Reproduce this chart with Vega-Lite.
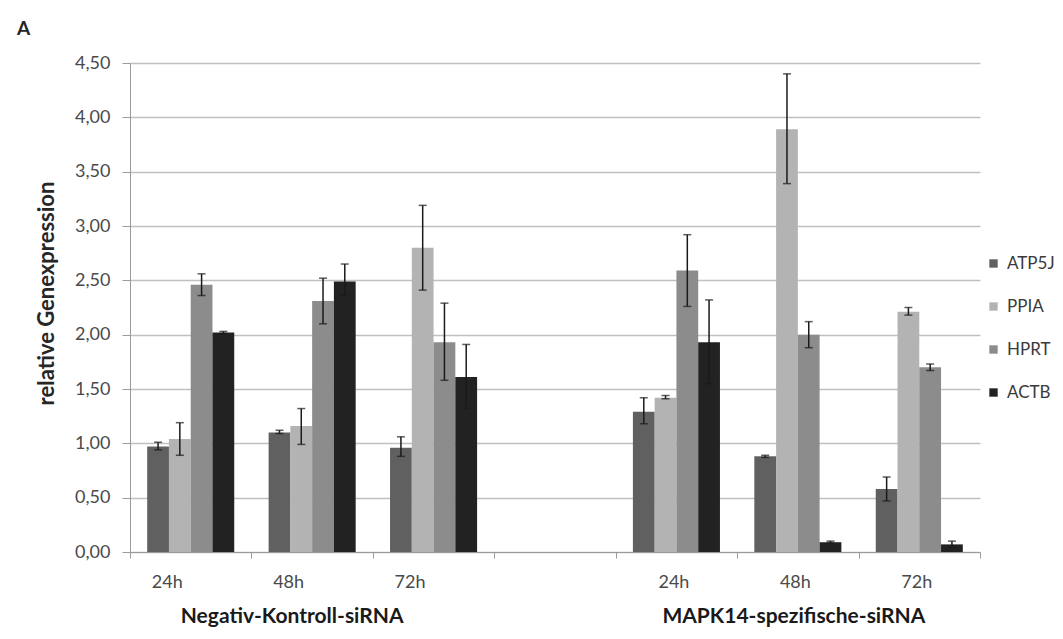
{
  "$schema": "https://vega.github.io/schema/vega-lite/v6.json",
  "width": 850,
  "height": 489,
  "autosize": "none",
  "padding": {"left": 130, "top": 63, "right": 83, "bottom": 87},
  "background": "white",
  "title": {"text": "A", "anchor": "start", "frame": "group", "dx": -113, "offset": 15, "fontSize": 19, "font": "Lato", "fontWeight": "bold", "color": "#262626"},
  "config": {"view": {"stroke": null}, "font": "Lato", "title": {"fontSize": 19}},
  "datasets": {
    "bars": [
      {"slot": "N24", "series": "ATP5J", "value": 0.97, "lo": 0.94, "hi": 1.01},
      {"slot": "N24", "series": "PPIA", "value": 1.04, "lo": 0.89, "hi": 1.19},
      {"slot": "N24", "series": "HPRT", "value": 2.46, "lo": 2.36, "hi": 2.56},
      {"slot": "N24", "series": "ACTB", "value": 2.02, "lo": 2.01, "hi": 2.03},
      {"slot": "N48", "series": "ATP5J", "value": 1.10, "lo": 1.09, "hi": 1.12},
      {"slot": "N48", "series": "PPIA", "value": 1.16, "lo": 0.99, "hi": 1.32},
      {"slot": "N48", "series": "HPRT", "value": 2.31, "lo": 2.10, "hi": 2.52},
      {"slot": "N48", "series": "ACTB", "value": 2.49, "lo": 2.36, "hi": 2.65},
      {"slot": "N72", "series": "ATP5J", "value": 0.96, "lo": 0.88, "hi": 1.06},
      {"slot": "N72", "series": "PPIA", "value": 2.80, "lo": 2.41, "hi": 3.19},
      {"slot": "N72", "series": "HPRT", "value": 1.93, "lo": 1.58, "hi": 2.29},
      {"slot": "N72", "series": "ACTB", "value": 1.61, "lo": 1.32, "hi": 1.91},
      {"slot": "M24", "series": "ATP5J", "value": 1.29, "lo": 1.18, "hi": 1.42},
      {"slot": "M24", "series": "PPIA", "value": 1.42, "lo": 1.41, "hi": 1.44},
      {"slot": "M24", "series": "HPRT", "value": 2.59, "lo": 2.26, "hi": 2.92},
      {"slot": "M24", "series": "ACTB", "value": 1.93, "lo": 1.55, "hi": 2.32},
      {"slot": "M48", "series": "ATP5J", "value": 0.88, "lo": 0.87, "hi": 0.89},
      {"slot": "M48", "series": "PPIA", "value": 3.89, "lo": 3.39, "hi": 4.40},
      {"slot": "M48", "series": "HPRT", "value": 2.00, "lo": 1.88, "hi": 2.12},
      {"slot": "M48", "series": "ACTB", "value": 0.09, "lo": 0.08, "hi": 0.10},
      {"slot": "M72", "series": "ATP5J", "value": 0.58, "lo": 0.47, "hi": 0.69},
      {"slot": "M72", "series": "PPIA", "value": 2.21, "lo": 2.18, "hi": 2.25},
      {"slot": "M72", "series": "HPRT", "value": 1.70, "lo": 1.67, "hi": 1.73},
      {"slot": "M72", "series": "ACTB", "value": 0.07, "lo": 0.05, "hi": 0.10}
    ]
  },
  "layer": [
    {
      "data": {"name": "bars"},
      "mark": {"type": "bar"},
      "encoding": {
        "x": {
          "field": "slot", "type": "nominal",
          "scale": {"domain": ["N24", "N48", "N72", "gap", "M24", "M48", "M72"], "paddingInner": 0, "paddingOuter": 0},
          "axis": {
            "title": null,
            "tickBand": "extent",
            "labelExpr": "indexof(['N24','N48','N72','M24','M48','M72'], datum.value) < 0 ? '' : substring(datum.value, 1) + 'h'",
            "labelOffset": {"condition": {"test": "indexof(['N24','N48','N72'], datum.value) >= 0", "value": -24}, "value": -3},
            "labelAngle": 0,
            "domainColor": "#9a9a9a",
            "tickColor": "#9a9a9a",
            "tickSize": 6,
            "labelPadding": 15,
            "labelFontSize": 18,
            "labelColor": "#4a4a4a",
            "grid": false
          }
        },
        "xOffset": {
          "field": "series", "type": "nominal",
          "scale": {"domain": ["ATP5J", "PPIA", "HPRT", "ACTB"], "paddingOuter": 0.79, "paddingInner": 0}
        },
        "y": {
          "field": "value", "type": "quantitative",
          "scale": {"domain": [0, 4.5], "nice": false},
          "axis": {
            "title": "relative Genexpression",
            "titleFontSize": 22,
            "titleFontWeight": "bold",
            "titleColor": "#262626",
            "titlePadding": 16,
            "titleY": 230,
            "values": [0, 0.5, 1, 1.5, 2, 2.5, 3, 3.5, 4, 4.5],
            "labelExpr": "replace(format(datum.value, '.2f'), '.', ',')",
            "tickSize": 8,
            "labelPadding": 12,
            "labelFontSize": 18,
            "labelColor": "#4a4a4a",
            "domainColor": "#9a9a9a",
            "tickColor": "#9a9a9a",
            "gridColor": "#c0c0c0",
            "gridWidth": 1.5
          }
        },
        "color": {
          "field": "series", "type": "nominal",
          "scale": {"domain": ["ATP5J", "PPIA", "HPRT", "ACTB"], "range": ["#606060", "#b3b3b3", "#8c8c8c", "#222222"]},
          "legend": {
            "orient": "none",
            "legendX": 855,
            "legendY": 192,
            "title": null,
            "symbolType": "square",
            "symbolSize": 70,
            "symbolStrokeWidth": 0,
            "labelFontSize": 17,
            "labelColor": "#3a3a3a",
            "labelOffset": 5,
            "rowPadding": 25
          }
        }
      }
    },
    {
      "data": {"name": "bars"},
      "mark": {"type": "rule", "color": "#1a1a1a", "strokeWidth": 1.5},
      "encoding": {
        "x": {"field": "slot", "type": "nominal"},
        "xOffset": {"field": "series", "type": "nominal"},
        "y": {"field": "lo", "type": "quantitative"},
        "y2": {"field": "hi"}
      }
    },
    {
      "data": {"name": "bars"},
      "mark": {"type": "tick", "color": "#1a1a1a", "thickness": 1.5, "size": 8},
      "encoding": {
        "x": {"field": "slot", "type": "nominal"},
        "xOffset": {"field": "series", "type": "nominal"},
        "y": {"field": "lo", "type": "quantitative"}
      }
    },
    {
      "data": {"name": "bars"},
      "mark": {"type": "tick", "color": "#1a1a1a", "thickness": 1.5, "size": 8},
      "encoding": {
        "x": {"field": "slot", "type": "nominal"},
        "xOffset": {"field": "series", "type": "nominal"},
        "y": {"field": "hi", "type": "quantitative"}
      }
    },
    {
      "data": {"values": [{"slot": "N48", "label": "Negativ-Kontroll-siRNA"}]},
      "mark": {"type": "text", "font": "Lato", "fontSize": 21, "fontWeight": "bold", "color": "#1a1a1a", "baseline": "middle", "dx": -20},
      "encoding": {
        "x": {"field": "slot", "type": "nominal"},
        "y": {"datum": -0.6, "type": "quantitative"},
        "text": {"field": "label"}
      }
    },
    {
      "data": {"values": [{"slot": "M48", "label": "MAPK14-spezifische-siRNA"}]},
      "mark": {"type": "text", "font": "Lato", "fontSize": 21, "fontWeight": "bold", "color": "#1a1a1a", "baseline": "middle", "dx": -4},
      "encoding": {
        "x": {"field": "slot", "type": "nominal"},
        "y": {"datum": -0.6, "type": "quantitative"},
        "text": {"field": "label"}
      }
    }
  ]
}
